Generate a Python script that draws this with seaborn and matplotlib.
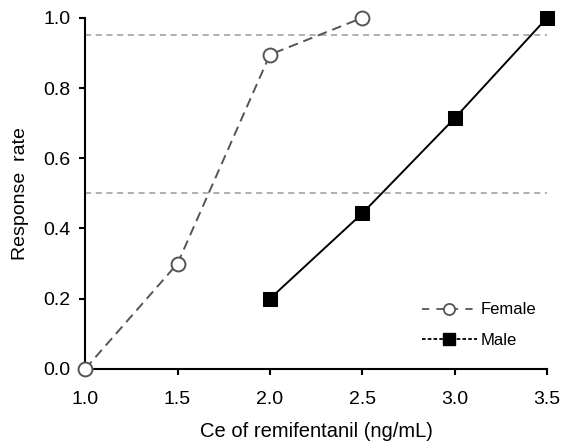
import matplotlib
matplotlib.use("Agg")
import matplotlib.pyplot as plt
from matplotlib.lines import Line2D
import seaborn as sns
import pandas as pd

# data
female_ce = [1.0, 1.5, 2.0, 2.5]
female_rate = [0.0, 0.30, 0.895, 1.0]
male_ce = [2.0, 2.5, 3.0, 3.5]
male_rate = [0.20, 0.443, 0.714, 1.0]
ref_levels = [0.95, 0.50]

sns.set_style("ticks")
plt.rcParams["font.family"] = ["Liberation Sans", "DejaVu Sans"]
plt.rcParams["text.color"] = "black"
plt.rcParams["axes.labelcolor"] = "black"
plt.rcParams["xtick.color"] = "black"
plt.rcParams["ytick.color"] = "black"

fig = plt.figure(figsize=(5.64, 4.45), dpi=100)
ax = fig.add_axes([0.151, 0.171, 0.819, 0.789])

for lv in ref_levels:
    ax.axhline(lv, color="#9a9a9a", ls=(0, (4, 3)), lw=1.1, zorder=1)

fem = pd.DataFrame({"ce": female_ce, "rate": female_rate})
mal = pd.DataFrame({"ce": male_ce, "rate": male_rate})

sns.lineplot(data=fem, x="ce", y="rate", ax=ax, color="#555555", lw=1.4,
             ls=(0, (5, 3)), marker="o", markersize=10, markerfacecolor="white",
             markeredgecolor="#555555", markeredgewidth=1.4,
             clip_on=False, zorder=3)
sns.lineplot(data=mal, x="ce", y="rate", ax=ax, color="black", lw=1.4,
             marker="s", markersize=10, markerfacecolor="black",
             markeredgecolor="black", clip_on=False, zorder=3)

ax.set_xlim(1.0, 3.5)
ax.set_ylim(0.0, 1.0)
ax.set_xticks([1.0, 1.5, 2.0, 2.5, 3.0, 3.5])
ax.set_yticks([0.0, 0.2, 0.4, 0.6, 0.8, 1.0])
ax.set_xticklabels([f"{v:.1f}" for v in ax.get_xticks()])
ax.set_yticklabels([f"{v:.1f}" for v in ax.get_yticks()])
ax.tick_params(labelsize=14, width=1.5, length=4, color="black")
ax.tick_params(axis="x", pad=12)
ax.tick_params(axis="y", pad=6.5)
for s in ["left", "bottom"]:
    ax.spines[s].set_linewidth(1.5)
    ax.spines[s].set_color("black")
sns.despine(ax=ax)

ax.set_xlabel("Ce of remifentanil (ng/mL)", fontsize=14.5, labelpad=10)
ax.set_ylabel("Response  rate", fontsize=14, labelpad=10)

handles = [
    Line2D([], [], color="#555555", lw=1.3, ls=(0, (4, 4)), marker="o",
           markersize=8, markerfacecolor="white", markeredgecolor="#555555",
           markeredgewidth=1.3),
    Line2D([], [], color="black", lw=1.3, ls=(0, (2, 1.2)), marker="s",
           markersize=8, markerfacecolor="black", markeredgecolor="black"),
]
ax.legend(handles, ["Female", "Male"], loc="center left",
          bbox_to_anchor=(0.729, 0.124), frameon=False, fontsize=12,
          handlelength=3.3, labelspacing=0.95, handletextpad=0.25,
          borderpad=0, borderaxespad=0)

fig.savefig("out.png", dpi=100)
